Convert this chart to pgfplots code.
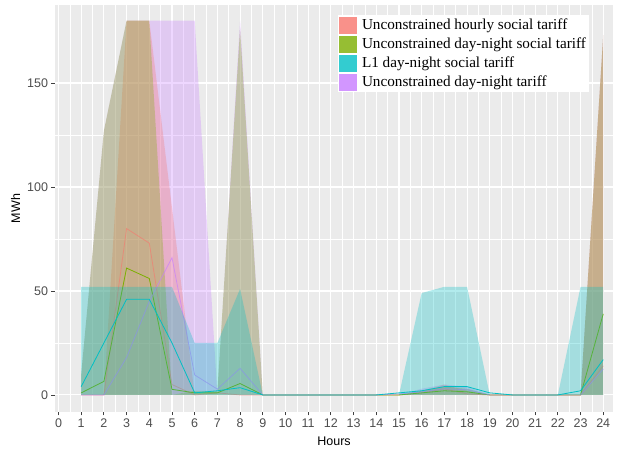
\documentclass[border=0pt]{standalone}
\usepackage{fontspec}
\setmainfont{Liberation Sans}
\newfontfamily\legfont{Liberation Serif}
\usepackage{pgfplots}
\usepackage{pgfplotstable}
\pgfplotsset{compat=1.18}

\definecolor{cred}{HTML}{F8766D}
\definecolor{cgreen}{HTML}{7CAE00}
\definecolor{ccyan}{HTML}{00BFC4}
\definecolor{cpurple}{HTML}{C77CFF}
\definecolor{panel}{HTML}{EBEBEB}
\definecolor{ticklab}{HTML}{4D4D4D}

% h: hour, ru..pu: ribbon tops, rl..pl: lines
\pgfplotstableread{
h  ru  gu  cu  pu  rl  gl  cl  pl
1  0   10  52  10  0   1   4   0
2  0   127 52  127 0   6.5 25  0
3  180 180 52  180 80  61  46  18
4  180 180 52  180 73  56  46  45
5  90  0   52  180 5   2.7 25  66
6  0   2   25  180 0   1   1   9.6
7  0   2   25  0   1   1   2   2.8
8  0   176 51  180 0   5.5 3.5 12.8
9  0   0   0   0   0   0   0   0
10 0   0   0   0   0   0   0   0
11 0   0   0   0   0   0   0   0
12 0   0   0   0   0   0   0   0
13 0   0   0   0   0   0   0   0
14 0   0   0   0   0   0   0   0
15 0   0   0   0   0   0   1   0.5
16 2   2   49  3   1   1   2   1.5
17 5   4   52  5   3   2   4   3
18 2   3   52  4   0.5 1.5 4   2.5
19 0   0   0   0   0   0   1   0
20 0   0   0   0   0   0   0   0
21 0   0   0   0   0   0   0   0
22 0   0   0   0   0   0   0   0
23 0   0   52  0   0   0   2   0
24 173 173 52  173 14  39  17  12.5
}\mwh

\begin{document}
\begin{tikzpicture}
\useasboundingbox (-55pt,-37pt) rectangle (563pt,412pt);
\begin{axis}[
    at={(0pt,0pt)}, anchor=south west,
    scale only axis,
    width=558pt, height=407pt,
    xmin=-0.154, xmax=24.43,
    ymin=-8.2, ymax=187.5,
    axis background/.style={fill=panel},
    axis line style={draw=none},
    xtick={0,...,24},
    ytick={0,50,100,150},
    minor x tick num=1,
    minor y tick num=1,
    grid=both,
    major grid style={white, line width=1.1pt},
    minor grid style={white, line width=0.5pt},
    tick align=outside,
    major tick length=3.5pt,
    minor tick length=0pt,
    xtick pos=bottom, ytick pos=left,
    tick style={color=black!75, line width=0.8pt},
    /pgf/number format/assume math mode=true,
    ticklabel style={font=\fontsize{12.5}{14}\selectfont, text=ticklab},
    xlabel={Hours},
    ylabel={MWh},
    xlabel style={yshift=-2pt},
    label style={font=\fontsize{12.5}{14}\selectfont},
    legend style={
        at={(rel axis cs:0.958,0.975)}, anchor=north east,
        draw=none, fill=white,
        font=\legfont\fontsize{15.2}{16}\selectfont,
        inner sep=1.5pt, row sep=2pt,
        column sep=0pt,
        legend cell align=left,
        /tikz/every odd column/.style={column sep=3pt},
    },
    legend image code/.code={\fill[#1] (0pt,-8.5pt) rectangle (18pt,8.5pt);},
]

\addlegendimage{draw=none, fill=cred!80}
\addlegendentry{Unconstrained hourly social tariff}
\addlegendimage{draw=none, fill=cgreen!80}
\addlegendentry{Unconstrained day-night social tariff}
\addlegendimage{draw=none, fill=ccyan!80}
\addlegendentry{L1 day-night social tariff}
\addlegendimage{draw=none, fill=cpurple!80}
\addlegendentry{Unconstrained day-night tariff}

% ribbons: purple first, then red and green on top
\addplot[draw=none, fill=cpurple, fill opacity=0.3, forget plot]
    table[x=h, y=pu] {\mwh} \closedcycle;
\addplot[draw=none, fill=cred, fill opacity=0.3, forget plot]
    table[x=h, y=ru] {\mwh} \closedcycle;
\addplot[draw=none, fill=cgreen, fill opacity=0.3, forget plot]
    table[x=h, y=gu] {\mwh} \closedcycle;

\addplot[cred, line width=0.8pt, opacity=0.6, forget plot]
    table[x=h, y=rl] {\mwh};
\addplot[cgreen, line width=0.8pt, forget plot]
    table[x=h, y=gl] {\mwh};
\addplot[cpurple, line width=0.8pt, opacity=0.65, forget plot]
    table[x=h, y=pl] {\mwh};

\addplot[draw=none, fill=ccyan, fill opacity=0.3, forget plot]
    table[x=h, y=cu] {\mwh} \closedcycle;
\addplot[ccyan, line width=0.8pt, forget plot]
    table[x=h, y=cl] {\mwh};

\end{axis}
\end{tikzpicture}
\end{document}
